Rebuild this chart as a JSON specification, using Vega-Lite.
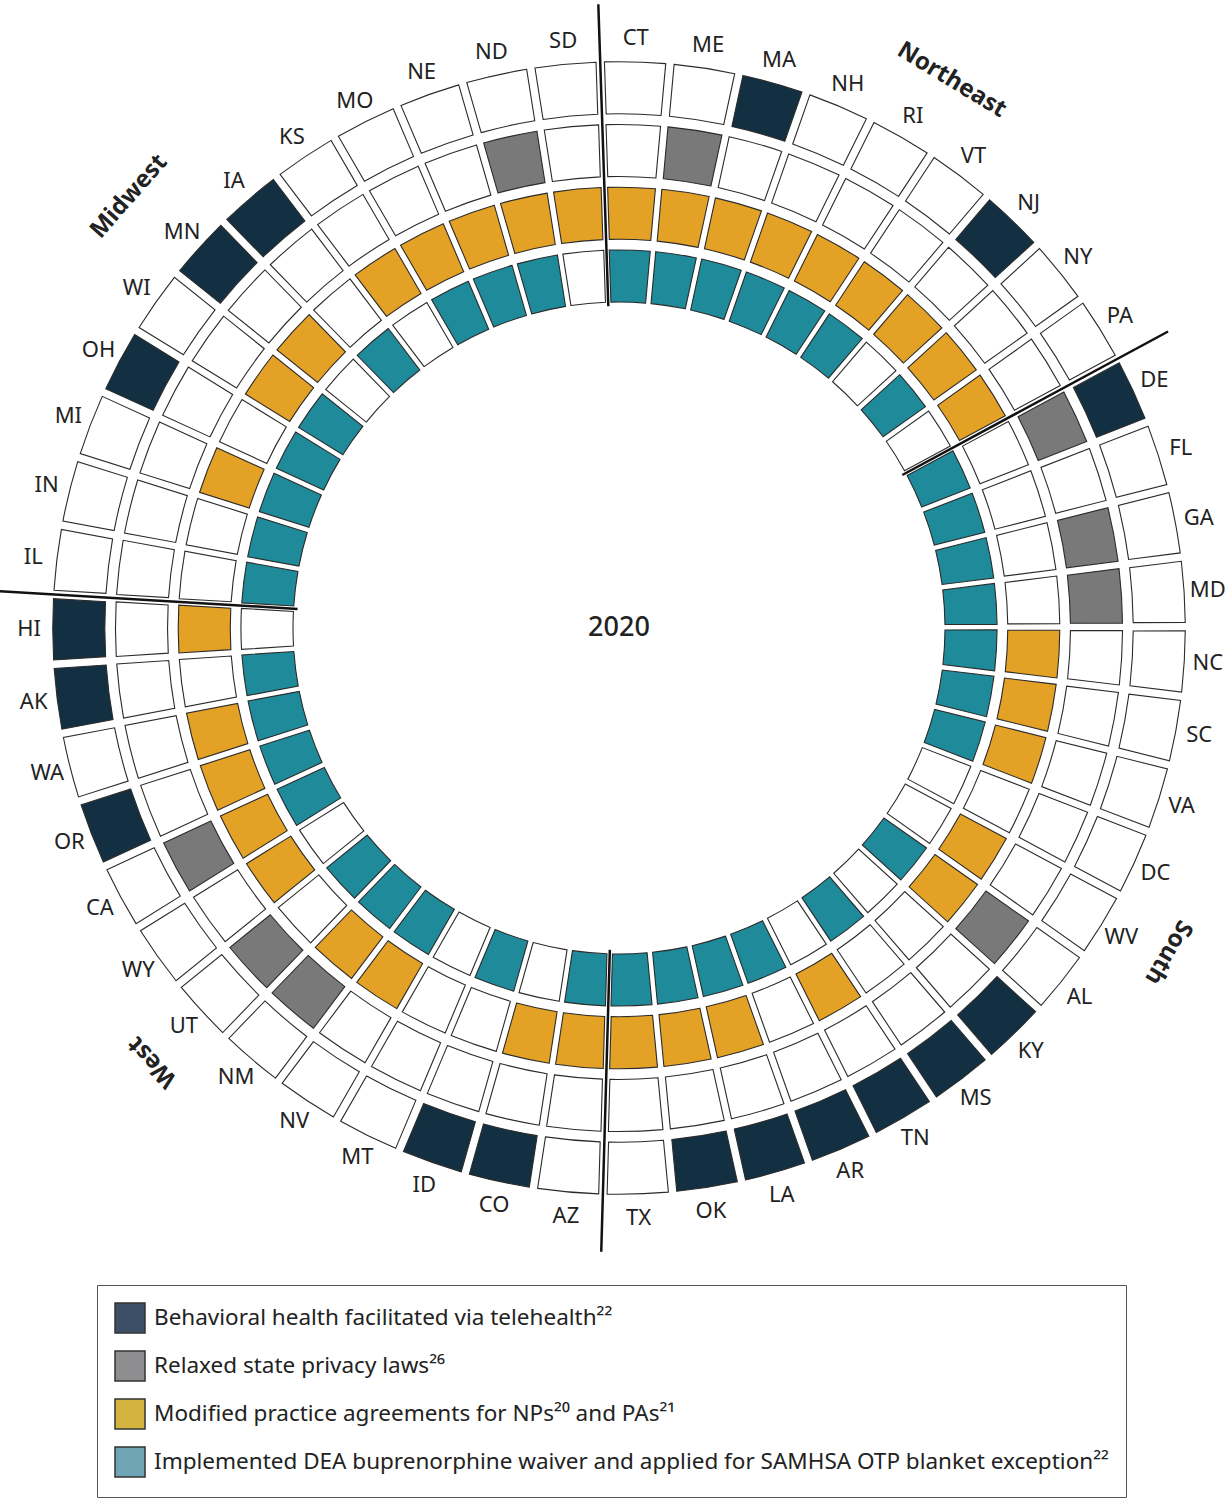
{
  "$schema": "https://vega.github.io/schema/vega-lite/v6.json",
  "width": 1238,
  "height": 1256,
  "autosize": {"type": "none"},
  "padding": {"left": 0, "top": 0, "right": 0, "bottom": 244},
  "background": "white",
  "config": {"view": {"stroke": null}, "font": "Noto Sans"},
  "datasets": {
    "states": [
      {"state": "CT", "region": "Northeast", "Telehealth": 0, "Privacy": 0, "NPPA": 1, "DEA": 1},
      {"state": "ME", "region": "Northeast", "Telehealth": 0, "Privacy": 1, "NPPA": 1, "DEA": 1},
      {"state": "MA", "region": "Northeast", "Telehealth": 1, "Privacy": 0, "NPPA": 1, "DEA": 1},
      {"state": "NH", "region": "Northeast", "Telehealth": 0, "Privacy": 0, "NPPA": 1, "DEA": 1},
      {"state": "RI", "region": "Northeast", "Telehealth": 0, "Privacy": 0, "NPPA": 1, "DEA": 1},
      {"state": "VT", "region": "Northeast", "Telehealth": 0, "Privacy": 0, "NPPA": 1, "DEA": 1},
      {"state": "NJ", "region": "Northeast", "Telehealth": 1, "Privacy": 0, "NPPA": 1, "DEA": 0},
      {"state": "NY", "region": "Northeast", "Telehealth": 0, "Privacy": 0, "NPPA": 1, "DEA": 1},
      {"state": "PA", "region": "Northeast", "Telehealth": 0, "Privacy": 0, "NPPA": 1, "DEA": 0},
      {"state": "DE", "region": "South", "Telehealth": 1, "Privacy": 1, "NPPA": 0, "DEA": 1},
      {"state": "FL", "region": "South", "Telehealth": 0, "Privacy": 0, "NPPA": 0, "DEA": 1},
      {"state": "GA", "region": "South", "Telehealth": 0, "Privacy": 1, "NPPA": 0, "DEA": 1},
      {"state": "MD", "region": "South", "Telehealth": 0, "Privacy": 1, "NPPA": 0, "DEA": 1},
      {"state": "NC", "region": "South", "Telehealth": 0, "Privacy": 0, "NPPA": 1, "DEA": 1},
      {"state": "SC", "region": "South", "Telehealth": 0, "Privacy": 0, "NPPA": 1, "DEA": 1},
      {"state": "VA", "region": "South", "Telehealth": 0, "Privacy": 0, "NPPA": 1, "DEA": 1},
      {"state": "DC", "region": "South", "Telehealth": 0, "Privacy": 0, "NPPA": 0, "DEA": 0},
      {"state": "WV", "region": "South", "Telehealth": 0, "Privacy": 0, "NPPA": 1, "DEA": 0},
      {"state": "AL", "region": "South", "Telehealth": 0, "Privacy": 1, "NPPA": 1, "DEA": 1},
      {"state": "KY", "region": "South", "Telehealth": 1, "Privacy": 0, "NPPA": 0, "DEA": 0},
      {"state": "MS", "region": "South", "Telehealth": 1, "Privacy": 0, "NPPA": 0, "DEA": 1},
      {"state": "TN", "region": "South", "Telehealth": 1, "Privacy": 0, "NPPA": 1, "DEA": 0},
      {"state": "AR", "region": "South", "Telehealth": 1, "Privacy": 0, "NPPA": 0, "DEA": 1},
      {"state": "LA", "region": "South", "Telehealth": 1, "Privacy": 0, "NPPA": 1, "DEA": 1},
      {"state": "OK", "region": "South", "Telehealth": 1, "Privacy": 0, "NPPA": 1, "DEA": 1},
      {"state": "TX", "region": "South", "Telehealth": 0, "Privacy": 0, "NPPA": 1, "DEA": 1},
      {"state": "AZ", "region": "West", "Telehealth": 0, "Privacy": 0, "NPPA": 1, "DEA": 1},
      {"state": "CO", "region": "West", "Telehealth": 1, "Privacy": 0, "NPPA": 1, "DEA": 0},
      {"state": "ID", "region": "West", "Telehealth": 1, "Privacy": 0, "NPPA": 0, "DEA": 1},
      {"state": "MT", "region": "West", "Telehealth": 0, "Privacy": 0, "NPPA": 0, "DEA": 0},
      {"state": "NV", "region": "West", "Telehealth": 0, "Privacy": 0, "NPPA": 1, "DEA": 1},
      {"state": "NM", "region": "West", "Telehealth": 0, "Privacy": 1, "NPPA": 1, "DEA": 1},
      {"state": "UT", "region": "West", "Telehealth": 0, "Privacy": 1, "NPPA": 0, "DEA": 1},
      {"state": "WY", "region": "West", "Telehealth": 0, "Privacy": 0, "NPPA": 1, "DEA": 0},
      {"state": "CA", "region": "West", "Telehealth": 0, "Privacy": 1, "NPPA": 1, "DEA": 1},
      {"state": "OR", "region": "West", "Telehealth": 1, "Privacy": 0, "NPPA": 1, "DEA": 1},
      {"state": "WA", "region": "West", "Telehealth": 0, "Privacy": 0, "NPPA": 1, "DEA": 1},
      {"state": "AK", "region": "West", "Telehealth": 1, "Privacy": 0, "NPPA": 0, "DEA": 1},
      {"state": "HI", "region": "West", "Telehealth": 1, "Privacy": 0, "NPPA": 1, "DEA": 0},
      {"state": "IL", "region": "Midwest", "Telehealth": 0, "Privacy": 0, "NPPA": 0, "DEA": 1},
      {"state": "IN", "region": "Midwest", "Telehealth": 0, "Privacy": 0, "NPPA": 0, "DEA": 1},
      {"state": "MI", "region": "Midwest", "Telehealth": 0, "Privacy": 0, "NPPA": 1, "DEA": 1},
      {"state": "OH", "region": "Midwest", "Telehealth": 1, "Privacy": 0, "NPPA": 0, "DEA": 1},
      {"state": "WI", "region": "Midwest", "Telehealth": 0, "Privacy": 0, "NPPA": 1, "DEA": 1},
      {"state": "MN", "region": "Midwest", "Telehealth": 1, "Privacy": 0, "NPPA": 1, "DEA": 0},
      {"state": "IA", "region": "Midwest", "Telehealth": 1, "Privacy": 0, "NPPA": 0, "DEA": 1},
      {"state": "KS", "region": "Midwest", "Telehealth": 0, "Privacy": 0, "NPPA": 1, "DEA": 0},
      {"state": "MO", "region": "Midwest", "Telehealth": 0, "Privacy": 0, "NPPA": 1, "DEA": 1},
      {"state": "NE", "region": "Midwest", "Telehealth": 0, "Privacy": 0, "NPPA": 1, "DEA": 1},
      {"state": "ND", "region": "Midwest", "Telehealth": 0, "Privacy": 1, "NPPA": 1, "DEA": 1},
      {"state": "SD", "region": "Midwest", "Telehealth": 0, "Privacy": 0, "NPPA": 1, "DEA": 0}
    ]
  },
  "layer": [
    {
      "data": {"name": "states"},
      "transform": [{"fold": ["Telehealth", "Privacy", "NPPA", "DEA"], "as": ["measure", "on"]}],
      "mark": {"type": "arc", "padAngle": 0.011, "stroke": "#2b2b2b", "strokeWidth": 1.1},
      "encoding": {
        "theta": {
          "field": "state", "type": "nominal",
          "scale": {
            "type": "band",
            "domain": ["CT","ME","MA","NH","RI","VT","NJ","NY","PA","DE","FL","GA","MD","NC","SC","VA","DC","WV","AL","KY","MS","TN","AR","LA","OK","TX","AZ","CO","ID","MT","NV","NM","UT","WY","CA","OR","WA","AK","HI","IL","IN","MI","OH","WI","MN","IA","KS","MO","NE","ND","SD"],
            "range": [-0.03316, 6.25003],
            "paddingInner": 0, "paddingOuter": 0
          }
        },
        "radius": {
          "field": "measure", "type": "nominal",
          "scale": {
            "type": "band",
            "domain": ["DEA", "NPPA", "Privacy", "Telehealth", "Label"],
            "range": [326, 629],
            "paddingInner": 0.17, "paddingOuter": 0
          }
        },
        "fill": {
          "condition": {
            "test": "datum.on == 1",
            "field": "measure", "type": "nominal",
            "scale": {"domain": ["DEA", "NPPA", "Privacy", "Telehealth"], "range": ["#1E8A9A", "#E3A126", "#797979", "#133042"]},
            "legend": null
          },
          "value": "white"
        }
      }
    },
    {
      "data": {"values": [{"state": "CT"}, {"state": "DE"}, {"state": "AZ"}, {"state": "IL"}]},
      "mark": {"type": "arc", "filled": false, "stroke": "#111111", "strokeWidth": 2.5, "radiusOffset": -4, "radius2Offset": -5},
      "encoding": {
        "theta": {"field": "state", "type": "nominal", "bandPosition": 0},
        "theta2": {"field": "state", "bandPosition": 0},
        "radius": {"datum": "DEA", "type": "nominal", "bandPosition": 0},
        "radius2": {"datum": "Label", "bandPosition": 1}
      }
    },
    {
      "data": {"name": "states"},
      "mark": {"type": "text", "fontSize": 22, "color": "#222222", "radiusOffset": -13},
      "encoding": {
        "theta": {"field": "state", "type": "nominal"},
        "radius": {"datum": "Label", "type": "nominal"},
        "text": {"field": "state"}
      }
    },
    {
      "data": {"values": [{"region": "Northeast"}]},
      "mark": {"type": "text", "fontSize": 24, "fontWeight": "bold", "color": "#222222", "angle": 31.3, "radiusOffset": 38},
      "encoding": {
        "theta": {"datum": "RI", "type": "nominal", "bandPosition": 0.7},
        "radius": {"datum": "Label", "type": "nominal"},
        "text": {"field": "region"}
      }
    },
    {
      "data": {"values": [{"region": "South"}]},
      "mark": {"type": "text", "fontSize": 24, "fontWeight": "bold", "color": "#222222", "angle": 120.6, "radiusOffset": 35},
      "encoding": {
        "theta": {"datum": "WV", "type": "nominal", "bandPosition": 0.35},
        "radius": {"datum": "Label", "type": "nominal"},
        "text": {"field": "region"}
      }
    },
    {
      "data": {"values": [{"region": "West"}]},
      "mark": {"type": "text", "fontSize": 24, "fontWeight": "bold", "color": "#222222", "angle": 227.1, "radiusOffset": 34},
      "encoding": {
        "theta": {"datum": "UT", "type": "nominal", "bandPosition": 0.44},
        "radius": {"datum": "Label", "type": "nominal"},
        "text": {"field": "region"}
      }
    },
    {
      "data": {"values": [{"region": "Midwest"}]},
      "mark": {"type": "text", "fontSize": 24, "fontWeight": "bold", "color": "#222222", "angle": 311.4, "radiusOffset": 50},
      "encoding": {
        "theta": {"datum": "MN", "type": "nominal", "bandPosition": 0.38},
        "radius": {"datum": "Label", "type": "nominal"},
        "text": {"field": "region"}
      }
    },
    {
      "data": {"values": [{"year": "2020"}]},
      "mark": {"type": "text", "fontSize": 27, "fontWeight": 500, "color": "#222222"},
      "encoding": {"text": {"field": "year"}}
    },
    {
      "data": {"name": "states"},
      "transform": [
        {"fold": ["Telehealth", "Privacy", "NPPA", "DEA"], "as": ["measure", "on"]},
        {"filter": "false"}
      ],
      "mark": {"type": "arc"},
      "encoding": {
        "theta": {"field": "state", "type": "nominal"},
        "radius": {"field": "measure", "type": "nominal"},
        "color": {
          "field": "measure", "type": "nominal",
          "scale": {"domain": ["Telehealth", "Privacy", "NPPA", "DEA"], "range": ["#3D4F66", "#8E8E90", "#D4B43E", "#6FA4B4"]},
          "legend": {
            "orient": "none", "legendX": 97, "legendY": 1285,
            "title": null,
            "symbolType": "square", "symbolSize": 900,
            "symbolStrokeColor": "#333333", "symbolStrokeWidth": 1.5, "symbolOpacity": 1,
            "labelFont": "Noto Sans", "labelFontSize": 22.5, "labelColor": "#222222", "labelLimit": 0,
            "labelOffset": 8, "rowPadding": 12, "padding": 17,
            "strokeColor": "#555555", "fillColor": "white",
            "labelExpr": "{'Telehealth': 'Behavioral health facilitated via telehealth²²', 'Privacy': 'Relaxed state privacy laws²⁶', 'NPPA': 'Modified practice agreements for NPs²⁰ and PAs²¹', 'DEA': 'Implemented DEA buprenorphine waiver and applied for SAMHSA OTP blanket exception²²'}[datum.label]"
          }
        }
      }
    }
  ]
}
